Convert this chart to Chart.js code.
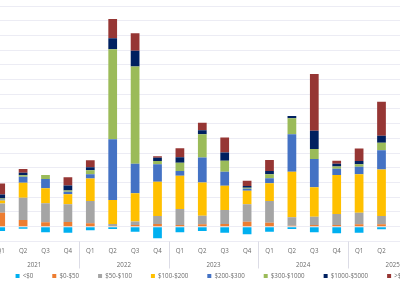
<!DOCTYPE html>
<html><head><meta charset="utf-8">
<script src="https://cdn.jsdelivr.net/npm/chart.js@4"></script>
<style>
html,body{margin:0;padding:0;background:#fff;overflow:hidden;width:400px;height:283px;}
#wrap{position:absolute;left:-20px;top:0;width:478px;height:283px;}
</style></head><body>
<div id="wrap"><canvas id="c" width="478" height="283" style="width:478px;height:283px"></canvas></div>
<script>
// ---- data ----
const quarterLabels = ['Q1','Q2','Q3','Q4','Q1','Q2','Q3','Q4','Q1','Q2','Q3','Q4','Q1','Q2','Q3','Q4','Q1','Q2','Q3','Q4'];
const yearLabels = ['2021','2022','2023','2024','2025'];
const seriesNames = ['<$0','$0-$50','$50-$100','$100-$200','$200-$300','$300-$1000','$1000-$5000','>$5000'];
const seriesColors = ['#00B0F0','#ED7D31','#A5A5A5','#FFC000','#4472C4','#9BBB59','#002060','#963634'];
const below0   = [-3.0,-1.4,-3.8,-4.1,-2.4,-1.6,-3.4,-7.9,-3.8,-2.9,-4.1,-5.2,-3.4,-1.6,-3.8,-4.5,-4.1,-1.8,null,null];
const s0_50    = [9.4,4.5,3.0,3.2,2.3,0.5,1.2,1.8,1.2,1.6,1.8,3.4,2.7,0.7,1.2,1.2,1.6,1.6,null,null];
const s50_100  = [6.4,15.1,12.9,12.0,15.1,1.3,2.3,5.4,10.9,5.8,9.5,11.8,14.8,5.7,5.6,7.5,7.9,5.6,null,null];
const s100_200 = [2.0,10.2,10.2,6.8,15.4,16.3,19.3,23.3,22.6,22.7,16.5,9.2,12.0,31.0,20.0,26.5,26.1,31.7,null,null];
const s200_300 = [0.7,4.1,6.3,1.8,2.9,41.3,19.9,12.0,3.2,17.0,9.5,1.4,3.4,25.4,19.2,4.1,5.2,13.1,null,null];
const s300_1000= [0.7,1.0,2.7,0.8,2.7,61.2,66.1,2.2,5.6,15.8,7.5,0.7,2.7,10.9,6.8,1.6,1.6,5.0,null,null];
const s1000_5000=[2.7,1.8,0,3.4,2.0,7.5,10.7,2.2,3.7,2.7,5.7,1.2,2.2,1.6,12.4,1.8,2.2,4.8,null,null];
const over5000 = [7.5,2.5,0,5.6,4.8,13.1,12.0,0.9,6.1,5.0,10.2,3.6,7.5,0,38.5,2.2,8.6,23.1,null,null];
const seriesData = [below0,s0_50,s50_100,s100_200,s200_300,s300_1000,s1000_5000,over5000];

const FONT = {family:'"Open Sans", "Noto Sans", sans-serif', size:6.2};
const TXT = '#6b6b6b';
const LEG_PAD = 19;
const LEG_TEXT_Y = 276;
const LEG_SHIFT = 2;

const separators = {
  id:'separators',
  afterDraw(chart){
    const x = chart.scales.x, ctx = chart.ctx, top = chart.chartArea.bottom;
    ctx.save();
    ctx.strokeStyle = '#dcdce6';
    ctx.lineWidth = 1;
    for(let k=0;k<=yearLabels.length;k++){
      const a = k*4-1, b = k*4;
      let px;
      if(a<0) px = x.getPixelForValue(0) - (x.getPixelForValue(1)-x.getPixelForValue(0))/2;
      else px = (x.getPixelForValue(a)+x.getPixelForValue(Math.min(b,quarterLabels.length-1)))/2;
      px = Math.round(px)+0.5;
      ctx.beginPath(); ctx.moveTo(px, top); ctx.lineTo(px, 268.5); ctx.stroke();
    }
    ctx.restore();
  }
};

// keep legend compact vertically while using wide horizontal spacing
const legendFit = {
  id:'legendFit',
  beforeLayout(chart){
    const lg = chart.legend;
    if(lg && !lg._wrapped){
      const of = lg.fit;
      lg.fit = function(){ of.call(this); this.height = 12; };
      lg._wrapped = true;
    }
  },
  afterLayout(chart){
    const lg = chart.legend;
    if(lg){
      const t = LEG_TEXT_Y - LEG_PAD - FONT.size/2;
      lg.top = t; lg.bottom = t + LEG_PAD + 20; lg.height = lg.bottom - lg.top;
      lg.left += LEG_SHIFT; lg.right += LEG_SHIFT;
    }
  }
};

new Chart(document.getElementById('c'), {
  type:'bar',
  data:{
    labels: quarterLabels,
    datasets: seriesNames.map((n,i)=>({
      label:n, data:seriesData[i], backgroundColor:seriesColors[i],
      borderWidth:0, stack:'s', categoryPercentage:1, barPercentage:0.39
    }))
  },
  options:{
    responsive:false, animation:false,
    layout:{padding:{top:6,left:9.5,right:20.5,bottom:0}},
    plugins:{
      tooltip:{enabled:false},
      legend:{position:'bottom', labels:{boxWidth:4, boxHeight:4, padding:LEG_PAD, color:TXT, font:FONT}}
    },
    scales:{
      x:{stacked:true, offset:true, grid:{display:false, drawTicks:false}, border:{display:false},
         ticks:{color:TXT, font:FONT, padding:6.2, maxRotation:0, autoSkip:false},
         afterFit(s){ s.height = 14; }},
      x2:{type:'category', labels:yearLabels, position:'bottom', offset:true,
         grid:{display:false, drawTicks:false}, border:{display:false},
         ticks:{color:TXT, font:FONT, padding:5.7, maxRotation:0, autoSkip:false},
         afterFit(s){ s.height = 15.6; }},
      y:{stacked:true, min:-10, max:150, ticks:{display:false, stepSize:10},
         grid:{color:'#ececf4', drawTicks:false}, border:{display:false}}
    }
  },
  plugins:[separators, legendFit]
});
</script>
</body></html>
